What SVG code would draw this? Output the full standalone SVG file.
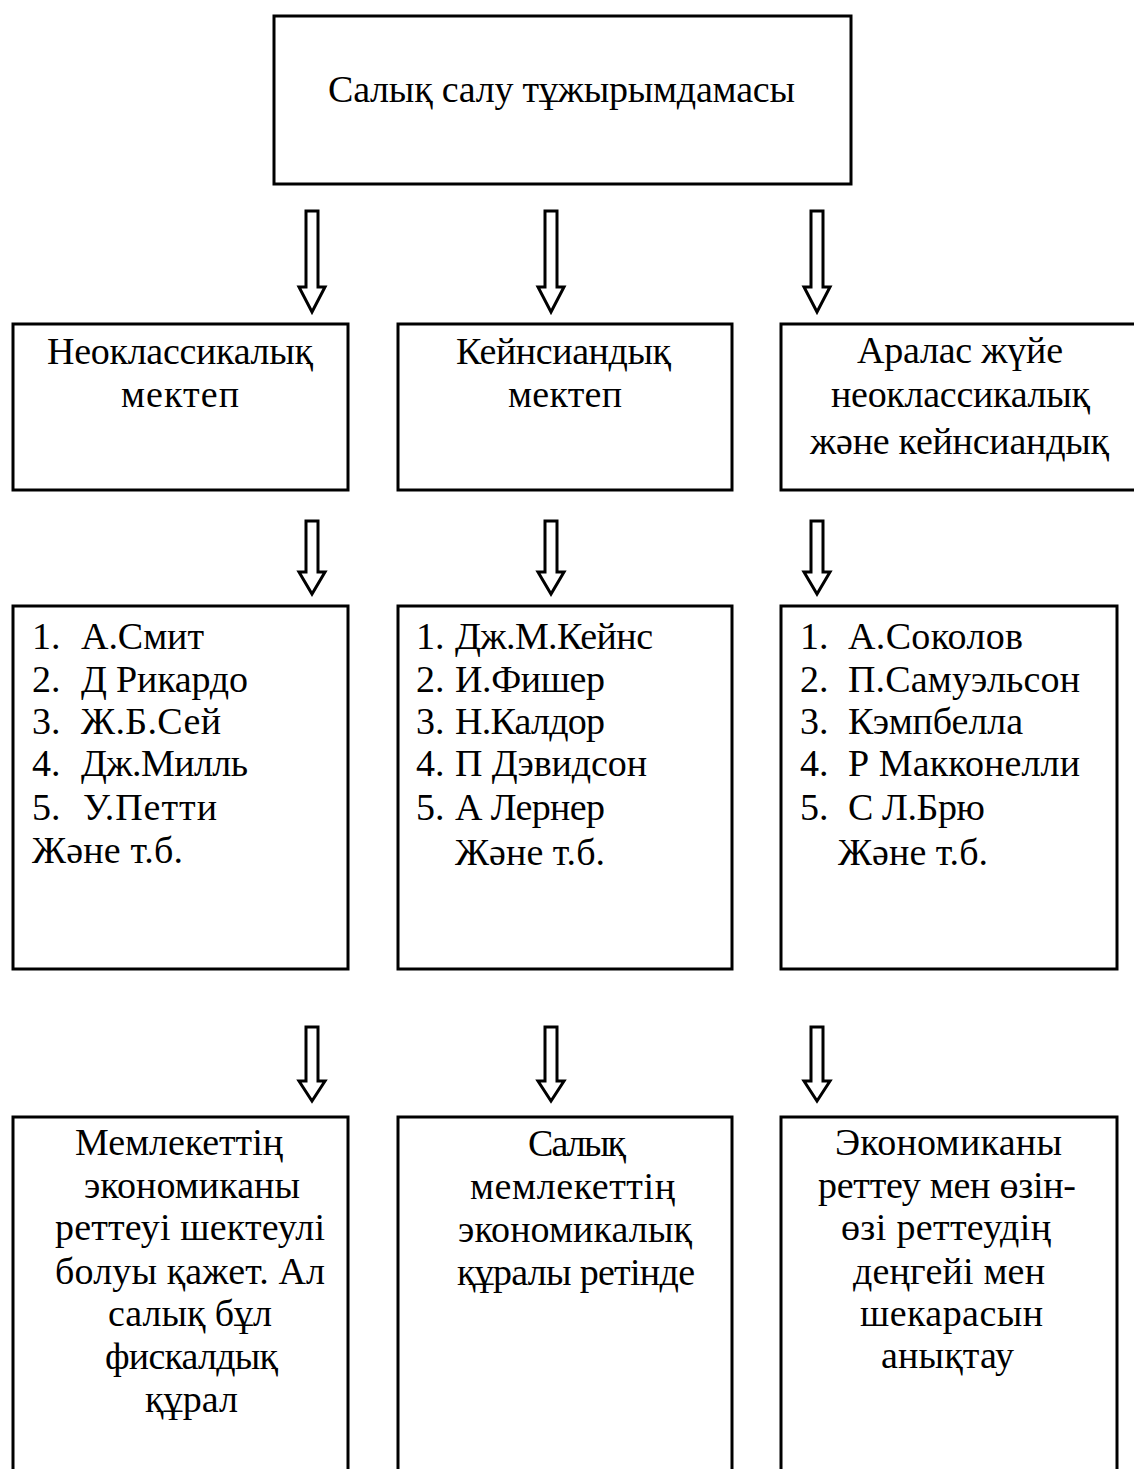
<svg xmlns="http://www.w3.org/2000/svg" width="1134" height="1469" viewBox="0 0 1134 1469">
<style>
.box{fill:#fff;stroke:#000;stroke-width:3}
.arr{fill:#fff;stroke:#000;stroke-width:3;stroke-linejoin:miter}
text{font-family:"Liberation Serif","Times New Roman",serif;font-size:38px;fill:#000}
.c{text-anchor:middle}
</style>
<rect width="1134" height="1469" fill="#fff"/>
<g id="connectors">
<path class="arr" d="M306,211 H318 V287 H325 L312,312 L299,287 H306 Z"/>
<path class="arr" d="M545,211 H557 V287 H564 L551,312 L538,287 H545 Z"/>
<path class="arr" d="M811,211 H823 V287 H830 L817,312 L804,287 H811 Z"/>
<path class="arr" d="M306,521 H318 V572 H325 L312,594 L299,572 H306 Z"/>
<path class="arr" d="M545,521 H557 V572 H564 L551,594 L538,572 H545 Z"/>
<path class="arr" d="M811,521 H823 V572 H830 L817,594 L804,572 H811 Z"/>
<path class="arr" d="M306,1027 H318 V1081 H325 L312,1101 L299,1081 H306 Z"/>
<path class="arr" d="M545,1027 H557 V1081 H564 L551,1101 L538,1081 H545 Z"/>
<path class="arr" d="M811,1027 H823 V1081 H830 L817,1101 L804,1081 H811 Z"/>
</g>
<g id="n-top">
<rect class="box" x="274" y="16" width="577" height="168"/>
<text x="328" y="102" textLength="467">Салық салу тұжырымдамасы</text>
</g>
<g id="n-neoclassic">
<rect class="box" x="13" y="324" width="335" height="166"/>
<text x="47" y="364" textLength="266">Неоклассикалық</text>
<text x="121" y="407" textLength="118">мектеп</text>
</g>
<g id="n-keynes">
<rect class="box" x="398" y="324" width="334" height="166"/>
<text x="456" y="364" textLength="215">Кейнсиандық</text>
<text x="508" y="407" textLength="114">мектеп</text>
</g>
<g id="n-mixed">
<rect class="box" x="781" y="324" width="370" height="166"/>
<text x="857" y="363" textLength="206">Аралас жүйе</text>
<text x="831" y="407" textLength="259">неоклассикалық</text>
<text x="810" y="454" textLength="299">және кейнсиандық</text>
</g>
<g id="n-list1">
<rect class="box" x="13" y="606" width="335" height="363"/>
<text x="32" y="649">1.</text><text x="81" y="649" textLength="123">А.Смит</text>
<text x="32" y="692">2.</text><text x="81" y="692" textLength="167">Д Рикардо</text>
<text x="32" y="734">3.</text><text x="81" y="734" textLength="140">Ж.Б.Сей</text>
<text x="32" y="776">4.</text><text x="81" y="776" textLength="167">Дж.Милль</text>
<text x="32" y="820">5.</text><text x="83" y="820" textLength="134">У.Петти</text>
<text x="32" y="863" textLength="151">Және т.б.</text>
</g>
<g id="n-list2">
<rect class="box" x="398" y="606" width="334" height="363"/>
<text x="416" y="649">1.</text><text x="455" y="649" textLength="198">Дж.М.Кейнс</text>
<text x="416" y="692">2.</text><text x="455" y="692" textLength="150">И.Фишер</text>
<text x="416" y="734">3.</text><text x="455" y="734" textLength="150">Н.Калдор</text>
<text x="416" y="776">4.</text><text x="455" y="776" textLength="192">П Дэвидсон</text>
<text x="416" y="820">5.</text><text x="455" y="820" textLength="150">А Лернер</text>
<text x="455" y="865" textLength="150">Және т.б.</text>
</g>
<g id="n-list3">
<rect class="box" x="781" y="606" width="336" height="363"/>
<text x="800" y="649">1.</text><text x="848" y="649" textLength="175">А.Соколов</text>
<text x="800" y="692">2.</text><text x="848" y="692" textLength="232">П.Самуэльсон</text>
<text x="800" y="734">3.</text><text x="848" y="734" textLength="175">Кэмпбелла</text>
<text x="800" y="776">4.</text><text x="848" y="776" textLength="232">Р Макконелли</text>
<text x="800" y="820">5.</text><text x="848" y="820" textLength="137">С Л.Брю</text>
<text x="838" y="865" textLength="150">Және т.б.</text>
</g>
<g id="n-res1">
<rect class="box" x="13" y="1117" width="335" height="370"/>
<text x="75" y="1155" textLength="208">Мемлекеттің</text>
<text x="84" y="1198" textLength="216">экономиканы</text>
<text x="55" y="1240" textLength="270">реттеуі шектеулі</text>
<text x="55" y="1284" textLength="270">болуы қажет. Ал</text>
<text x="108" y="1326" textLength="164">салық бұл</text>
<text x="105" y="1369" textLength="173">фискалдық</text>
<text x="145" y="1412" textLength="93">құрал</text>
</g>
<g id="n-res2">
<rect class="box" x="398" y="1117" width="334" height="370"/>
<text x="528" y="1156" textLength="98">Салық</text>
<text x="470" y="1199" textLength="205">мемлекеттің</text>
<text x="458" y="1242" textLength="234">экономикалық</text>
<text x="457" y="1285" textLength="238">құралы ретінде</text>
</g>
<g id="n-res3">
<rect class="box" x="781" y="1117" width="336" height="370"/>
<text x="835" y="1155" textLength="227">Экономиканы</text>
<text x="818" y="1198" textLength="258">реттеу мен өзін-</text>
<text x="841" y="1240" textLength="210">өзі реттеудің</text>
<text x="853" y="1284" textLength="192">деңгейі мен</text>
<text x="860" y="1326" textLength="183">шекарасын</text>
<text x="881" y="1368" textLength="133">анықтау</text>
</g>
</svg>
